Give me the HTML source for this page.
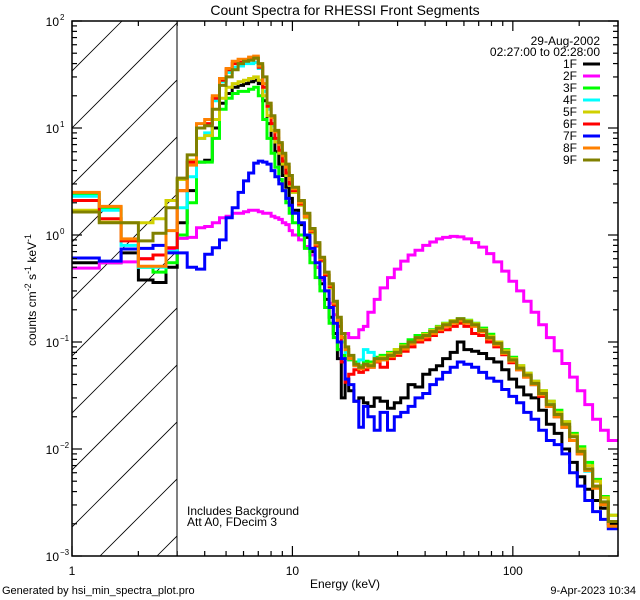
<!DOCTYPE html>
<html><head><meta charset="utf-8"><style>
html,body{margin:0;padding:0;background:#fff;}
svg{display:block;font-family:"Liberation Sans",sans-serif;}
</style></head><body>
<svg id="chart" width="640" height="600" viewBox="0 0 640 600" xmlns="http://www.w3.org/2000/svg">
<defs><clipPath id="plotclip"><rect x="72" y="21" width="546" height="535"/></clipPath>
<clipPath id="hatchclip"><rect x="72" y="21" width="105" height="535"/></clipPath></defs>
<rect x="0" y="0" width="640" height="600" fill="#fff"/>
<g id="hatch" clip-path="url(#hatchclip)"></g>
<line x1="177" y1="21" x2="177" y2="556" stroke="#000" stroke-width="1"/>
<g id="series" clip-path="url(#plotclip)"></g>
<g id="axes"></g>
<text x="345" y="15" font-size="14" text-anchor="middle">Count Spectra for RHESSI Front Segments</text>
<text x="345" y="588" font-size="12" text-anchor="middle">Energy (keV)</text>
<text transform="translate(36,290) rotate(-90)" font-size="12" text-anchor="middle">counts cm<tspan dy="-5" font-size="9">-2</tspan><tspan dy="5"> s</tspan><tspan dy="-5" font-size="9">-1</tspan><tspan dy="5"> keV</tspan><tspan dy="-5" font-size="9">-1</tspan></text>
<text x="187" y="515" font-size="12">Includes Background</text>
<text x="187" y="526" font-size="12">Att A0, FDecim 3</text>
<text x="2" y="594" font-size="11">Generated by hsi_min_spectra_plot.pro</text>
<text x="636" y="594" font-size="11" text-anchor="end">9-Apr-2023 10:34</text>
<text x="600" y="45" font-size="12" text-anchor="end">29-Aug-2002</text>
<text x="600" y="56" font-size="12" text-anchor="end">02:27:00 to 02:28:00</text>
<g id="legend"></g>
</svg>
<script>
const edges=[1,1.33,1.67,2,2.33,2.67,3,3.33,3.67,4,4.33,4.67,5,5.33,5.67,6,6.33,6.67,7,7.33,7.67,8,8.33,8.67,9,9.33,9.67,10,10.67,11.33,12,12.67,13.33,14,14.67,15.33,16,16.67,17.33,18,19,20,21,22,23.5,25,27,29,31,33.5,36,39,42,45,48,52,56,60,65,70,76,82,89,96,104,112,121,131,142,154,167,181,196,212,230,250,271,300];
const seriesNames=["1F","2F","3F","4F","5F","6F","7F","8F","9F"];
const seriesColors=["#000000","#ff00ff","#00ff00","#00ffff","#d0d000","#ff0000","#0000ff","#ff8000","#808000"];
const s1F=[0.55,0.55,0.68,0.38,0.36,0.5, 1.3,2.6,4.8,5,10,17,21,24,25,26,27,28,26,18,11,8,6,4.6,3.6,2.8,2.2, 1.7,1.25,0.95,0.7,0.5,0.35,0.25,0.17,0.12,0.07,0.03,0.045, 0.035,0.028,0.03,0.027,0.025,0.03,0.028,0.024,0.027,0.03,0.04,0.038,0.05,0.055,0.06,0.07,0.08,0.1,0.085,0.082,0.078,0.07,0.065,0.055,0.045,0.038,0.032,0.03,0.023,0.017,0.014,0.01,0.0075,0.0055,0.0042,0.0033,0.0028,0.002];
const s2F=[0.49,0.55,0.56,0.6,0.65,0.72, 0.93,0.95,1.17,1.2,1.3,1.45,1.5,1.6,1.6,1.65,1.7,1.7,1.65,1.6,1.6,1.5,1.45,1.4,1.3,1.25,1.1, 1.0,0.9,0.78,0.65,0.5,0.38,0.3,0.23,0.18,0.15,0.12,0.12, 0.11,0.11,0.13,0.14,0.19,0.25,0.32,0.4,0.48,0.57,0.65,0.72,0.8,0.86,0.92,0.95,0.97,0.96,0.92,0.85,0.77,0.67,0.56,0.46,0.37,0.3,0.24,0.19,0.145,0.11,0.083,0.063,0.047,0.035,0.026,0.019,0.015,0.012];
const s3F=[2.4,1.8,0.9,0.5,0.45,0.55, 1.0,2.0,4.8,4.8,8,15,19,21,22,22,23,24,20,12,8,5.8,4.3,3.3,2.6,2.0,1.6, 1.3,1.0,0.75,0.55,0.4,0.3,0.21,0.15,0.11,0.085,0.075,0.07, 0.068,0.065,0.06,0.066,0.065,0.072,0.075,0.08,0.085,0.095,0.105,0.115,0.12,0.13,0.14,0.15,0.158,0.165,0.16,0.15,0.135,0.118,0.1,0.085,0.072,0.06,0.051,0.043,0.035,0.028,0.023,0.018,0.014,0.0105,0.0075,0.0052,0.0036,0.0024];
const s4F=[2.3,1.7,0.8,0.5,0.5,0.7, 1.8,3.5,8,9,18,27,33,37,38,40,40,41,36,22,15,10.5,7.6,6,4.7,3.7,2.9, 2.5,1.9,1.45,1.05,0.78,0.57,0.42,0.32,0.22,0.15,0.1,0.08, 0.07,0.06,0.068,0.085,0.08,0.07,0.068,0.072,0.08,0.088,0.098,0.108,0.115,0.125,0.135,0.145,0.155,0.16,0.155,0.142,0.125,0.108,0.094,0.079,0.067,0.056,0.048,0.04,0.032,0.026,0.02,0.016,0.012,0.009,0.0062,0.0044,0.003,0.0021];
const s5F=[1.7,1.32,1.3,1.3,1.42,2.1, 3.3,5,8,8.5,12,19,24,26,27,28,29,30,28,20,13,9.5,7.4,5.8,4.6,3.6,2.9, 2.5,1.9,1.45,1.05,0.78,0.57,0.42,0.32,0.22,0.15,0.11,0.085, 0.072,0.062,0.058,0.06,0.062,0.068,0.072,0.078,0.085,0.092,0.1,0.11,0.118,0.128,0.138,0.148,0.158,0.162,0.158,0.148,0.13,0.113,0.1,0.083,0.07,0.06,0.051,0.043,0.035,0.028,0.022,0.018,0.0135,0.01,0.007,0.005,0.0035,0.0024];
const s6F=[2.1,1.42,0.88,0.6,0.65,0.76, 2.6,4.8,10,11,19,28,35,40,41,43,44,45,37,24,16,11,8,6.2,4.9,3.8,3.0, 2.6,1.95,1.5,1.08,0.8,0.58,0.42,0.33,0.22,0.14,0.065,0.042, 0.05,0.055,0.052,0.055,0.058,0.065,0.058,0.07,0.075,0.082,0.09,0.1,0.105,0.115,0.125,0.13,0.14,0.15,0.14,0.12,0.115,0.1,0.09,0.076,0.064,0.055,0.047,0.04,0.031,0.025,0.02,0.016,0.012,0.009,0.0065,0.0045,0.0031,0.0021];
const s7F=[0.61,0.57,0.74,0.75,0.8,0.68, 0.68,0.5,0.48,0.66,0.76,0.9,1.45,1.8,2.5,3.2,3.8,4.7,4.9,4.8,4.6,4.0,3.5,3.0,2.6,2.2,1.9, 1.6,1.3,1.0,0.75,0.55,0.4,0.3,0.21,0.15,0.1,0.07,0.045, 0.04,0.028,0.016,0.025,0.02,0.015,0.022,0.015,0.02,0.022,0.025,0.03,0.033,0.04,0.045,0.052,0.058,0.065,0.062,0.058,0.052,0.046,0.043,0.036,0.031,0.027,0.022,0.019,0.015,0.012,0.011,0.009,0.006,0.0045,0.0033,0.0026,0.0022,0.0018];
const s8F=[2.5,1.85,0.92,0.51,0.51,1.1, 2.6,4.5,11,12,20,29,36,42,44,44,46,47,38,26,17,12.5,9.2,7,5.5,4.3,3.3, 2.7,2.0,1.5,1.1,0.82,0.6,0.44,0.34,0.23,0.16,0.11,0.085, 0.07,0.06,0.056,0.06,0.058,0.066,0.068,0.073,0.078,0.086,0.096,0.105,0.112,0.12,0.13,0.14,0.15,0.158,0.15,0.14,0.124,0.107,0.094,0.078,0.066,0.055,0.047,0.04,0.032,0.025,0.02,0.016,0.012,0.009,0.0063,0.0043,0.003,0.0019];
const s9F=[1.64,1.3,1.3,0.88,1.04,1.8, 3.4,5.6,10,10.5,15,25,30,35,40,42,43,45,40,30,17,13,9.5,7.3,5.8,4.6,3.6, 2.8,2.1,1.6,1.15,0.85,0.62,0.45,0.35,0.24,0.17,0.12,0.09, 0.075,0.062,0.058,0.062,0.06,0.07,0.07,0.075,0.08,0.09,0.1,0.11,0.115,0.125,0.135,0.145,0.155,0.165,0.155,0.145,0.128,0.11,0.097,0.08,0.068,0.057,0.049,0.041,0.033,0.026,0.021,0.017,0.013,0.0095,0.0065,0.0045,0.0032,0.0021];
const allSeries=[s1F,s2F,s3F,s4F,s5F,s6F,s7F,s8F,s9F];
const xTickMajor=[1,10,100];
const xTickLabels=["1","10","100"];
const yTickExps=[-3,-2,-1,0,1,2];

const X0=72,X1=618,Y0=556,Y1=21,XMIN=1,XMAX=300,YMIN=-3,YMAX=2;
function xs(e){return X0+(Math.log10(e)-Math.log10(XMIN))/(Math.log10(XMAX)-Math.log10(XMIN))*(X1-X0);}
function ys(v){return Y0-(Math.log10(v)-YMIN)/(YMAX-YMIN)*(Y0-Y1);}
const NS="http://www.w3.org/2000/svg";
function mk(tag,attrs,parent){const el=document.createElementNS(NS,tag);for(const k in attrs)el.setAttribute(k,attrs[k]);parent.appendChild(el);return el;}

// hatch
const hatch=document.getElementById('hatch');
for(let c=656-57*12;c<=800;c+=57){
  const ln=mk('line',{x1:c-600,y1:600,x2:c,y2:0,stroke:'#000','stroke-width':0.8},hatch);
  
  
}

// series
const sg=document.getElementById('series');
allSeries.forEach((vals,si)=>{
  let d='';
  for(let i=0;i<vals.length;i++){
    const xa=xs(edges[i]).toFixed(1),xb=xs(edges[i+1]).toFixed(1),y=ys(vals[i]).toFixed(1);
    d+=(i===0?'M':'L')+xa+','+y+'L'+xb+','+y;
  }
  const p=mk('path',{d:d,fill:'none',stroke:seriesColors[si],'stroke-width':3,'stroke-linejoin':'miter'},sg);
  
  
});

// axes
const ax=document.getElementById('axes');
const frame=mk('rect',{x:X0,y:Y1,width:X1-X0,height:Y0-Y1,fill:'none',stroke:'#000','stroke-width':1.5},ax);


for(let dec=0;dec<=2;dec++){
  for(let m=1;m<=9;m++){
    const e=m*Math.pow(10,dec);
    if(e>XMAX)break;
    const x=xs(e),L=(m===1)?10:5;
    const t1=mk('line',{x1:x,y1:Y0,x2:x,y2:Y0-L,stroke:'#000','stroke-width':1.2},ax);
    
    
    const t2=mk('line',{x1:x,y1:Y1,x2:x,y2:Y1+L,stroke:'#000','stroke-width':1.2},ax);
    
    
  }
}
xTickMajor.forEach((e,i)=>{
  const t=mk('text',{x:xs(e),y:575,'font-size':12,'text-anchor':'middle'},ax);
  t.textContent=xTickLabels[i];
  
  
});
yTickExps.forEach(ex=>{
  for(let m=1;m<=9;m++){
    if(ex===YMAX&&m>1)break;
    const y=ys(m*Math.pow(10,ex)),L=(m===1)?10:5;
    const t1=mk('line',{x1:X0,y1:y,x2:X0+L,y2:y,stroke:'#000','stroke-width':1.2},ax);
    
    
    const t2=mk('line',{x1:X1,y1:y,x2:X1-L,y2:y,stroke:'#000','stroke-width':1.2},ax);
    
    
  }
  const t=mk('text',{x:59,y:ys(Math.pow(10,ex))+5,'font-size':12,'text-anchor':'end'},ax);
  t.textContent='10';
  
  
  const s=mk('text',{x:60,y:ys(Math.pow(10,ex))-1,'font-size':8},ax);
  s.textContent=(ex<0?'\u2212':'')+Math.abs(ex);
  
  
});

// legend
const lg=document.getElementById('legend');
seriesNames.forEach((n,i)=>{
  const y=64+i*12;
  const t=mk('text',{x:577,y:y+4,'font-size':12,'text-anchor':'end'},lg);
  t.textContent=n;
  
  
  const l=mk('line',{x1:583,y1:y,x2:600,y2:y,stroke:seriesColors[i],'stroke-width':3},lg);
  
  
});
</script>
</body></html>
